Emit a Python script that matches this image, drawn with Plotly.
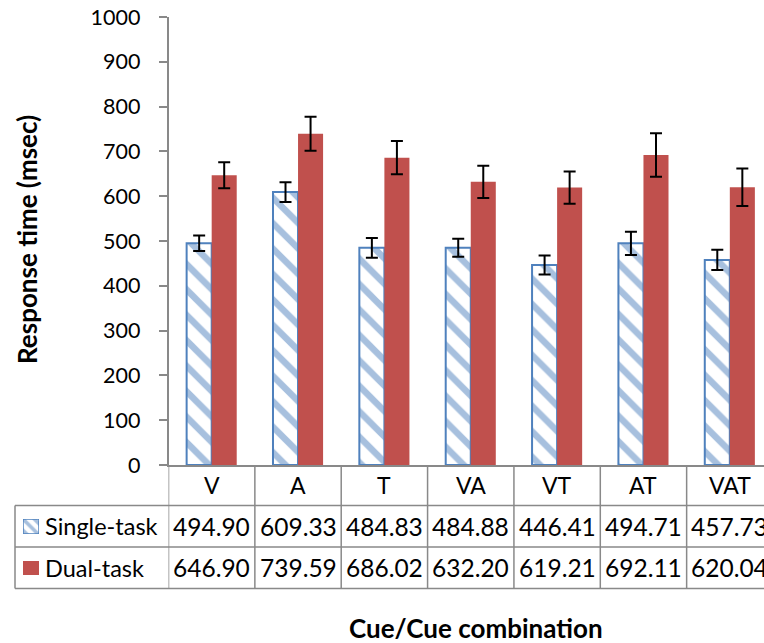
import plotly.graph_objects as go

# Reaction-time data per cue condition
categories = ["V", "A", "T", "VA", "VT", "AT", "VAT"]
single_task = [494.90, 609.33, 484.83, 484.88, 446.41, 494.71, 457.73]
dual_task = [646.90, 739.59, 686.02, 632.20, 619.21, 692.11, 620.04]
single_err = [17.5, 22, 22, 20, 21, 26, 22.5]
dual_err = [29, 38, 37, 36, 36, 48.5, 42]
series_names = ["Single-task", "Dual-task"]
y_ticks = list(range(0, 1001, 100))

W, H = 764, 643
FONT = "Lato"
BLUE = "#4F81BD"
RED = "#C0504D"
GRID = "#898989"


def px_x(p):
    return p / W


def px_y(p):
    return (H - p) / H


# plot area in pixels
PL, PR, PT, PB = 168.5, 764, 17, 465
# table rows in pixels
ROW_TOP, ROW1, ROW2, ROW_BOT = 465, 505.5, 547, 588.5
TABLE_LEFT = 15

single_pattern = dict(shape="\\", fgcolor=BLUE, bgcolor="white", size=18, solidity=0.36)

fig = go.Figure()
fig.add_trace(go.Bar(
    x=categories, y=single_task, name=series_names[0],
    marker=dict(color="white", pattern=single_pattern, line=dict(color=BLUE, width=2)),
    error_y=dict(type="data", array=single_err, color="black", thickness=2, width=6),
))
fig.add_trace(go.Bar(
    x=categories, y=dual_task, name=series_names[1],
    marker=dict(color=RED, line=dict(width=0)),
    error_y=dict(type="data", array=dual_err, color="black", thickness=2, width=6),
))

# legend keys inside the data table
fig.add_trace(go.Bar(x=[0], y=[1], width=[1], xaxis="x2", yaxis="y2", showlegend=False,
                     marker=dict(color="white", pattern=dict(shape="\\", fgcolor=BLUE, bgcolor="white",
                                                             size=8, solidity=0.45),
                                 line=dict(color=BLUE, width=1.5)),
                     hoverinfo="skip"))
fig.add_trace(go.Bar(x=[0], y=[1], width=[1], xaxis="x3", yaxis="y3", showlegend=False,
                     marker=dict(color=RED, line=dict(width=0)), hoverinfo="skip"))

n = len(categories)
col_w = (773 - PL) / n
x_hi = -0.5 + (PR - PL) / col_w

key_axis = dict(visible=False, fixedrange=True)
fig.update_layout(
    width=W, height=H,
    margin=dict(l=0, r=0, t=0, b=0, autoexpand=False),
    paper_bgcolor="white", plot_bgcolor="white",
    font=dict(family=FONT, size=21, color="black"),
    showlegend=False,
    barmode="group", bargap=0.42, bargroupgap=0,
    xaxis=dict(domain=[px_x(PL), 1], range=[-0.5, x_hi], showticklabels=False,
               showline=True, linecolor=GRID, linewidth=1.5, ticks="", showgrid=False,
               zeroline=False, automargin=False),
    yaxis=dict(domain=[px_y(PB), px_y(PT)], range=[0, 1000], tickvals=y_ticks,
               ticks="outside", ticklen=8, tickcolor=GRID, tickwidth=1.5,
               showline=True, linecolor=GRID, linewidth=1.5, showgrid=False, zeroline=False,
               ticklabelstandoff=14, tickfont=dict(size=21.5), automargin=False),
    xaxis2=dict(key_axis, domain=[px_x(23), px_x(39)], range=[-0.5, 0.5], anchor="y2"),
    yaxis2=dict(key_axis, domain=[px_y(534), px_y(519)], range=[0, 1], anchor="x2"),
    xaxis3=dict(key_axis, domain=[px_x(23), px_x(39)], range=[-0.5, 0.5], anchor="y3"),
    yaxis3=dict(key_axis, domain=[px_y(575), px_y(561)], range=[0, 1], anchor="x3"),
)

shapes = []
line = dict(color=GRID, width=1.5)
# vertical column separators of the data table
for k in range(n + 1):
    shapes.append(dict(type="line", xref="x", yref="paper", x0=k - 0.5, x1=k - 0.5,
                       y0=px_y(ROW_BOT), y1=px_y(ROW_TOP), line=line))
# left border of the series-name column
shapes.append(dict(type="line", xref="paper", yref="paper", x0=px_x(TABLE_LEFT), x1=px_x(TABLE_LEFT),
                   y0=px_y(ROW_BOT), y1=px_y(ROW1), line=line))
# horizontal row lines
for yy in (ROW1, ROW2, ROW_BOT):
    shapes.append(dict(type="line", xref="paper", yref="paper", x0=px_x(TABLE_LEFT), x1=1,
                       y0=px_y(yy), y1=px_y(yy), line=line))
fig.update_layout(shapes=shapes)

ann = []
hdr_y = px_y((ROW_TOP + ROW1) / 2)
r1_y = px_y((ROW1 + ROW2) / 2)
r2_y = px_y((ROW2 + ROW_BOT) / 2)
for i, c in enumerate(categories):
    ann.append(dict(x=i, y=hdr_y, xref="x", yref="paper", text=c, showarrow=False,
                    xanchor="center", yanchor="middle", font=dict(size=23)))
    ann.append(dict(x=i, y=r1_y, xref="x", yref="paper", text=f"{single_task[i]:.2f}",
                    showarrow=False, xanchor="center", yanchor="middle", font=dict(size=24.5)))
    ann.append(dict(x=i, y=r2_y, xref="x", yref="paper", text=f"{dual_task[i]:.2f}",
                    showarrow=False, xanchor="center", yanchor="middle", font=dict(size=24.5)))
for name, yy in zip(series_names, (r1_y, r2_y)):
    ann.append(dict(x=px_x(43), y=yy, xref="paper", yref="paper", text=name, showarrow=False,
                    xanchor="left", yanchor="middle", font=dict(size=23.5)))
# axis titles
ann.append(dict(x=px_x(27), y=px_y(240), xref="paper", yref="paper",
                text="<b>Response time (msec)</b>", textangle=-90, showarrow=False,
                xanchor="center", yanchor="middle", font=dict(size=26)))
ann.append(dict(x=px_x(476), y=px_y(628), xref="paper", yref="paper",
                text="<b>Cue/Cue combination</b>", showarrow=False,
                xanchor="center", yanchor="middle", font=dict(size=26)))
fig.update_layout(annotations=ann)

fig.write_html("out.html")
